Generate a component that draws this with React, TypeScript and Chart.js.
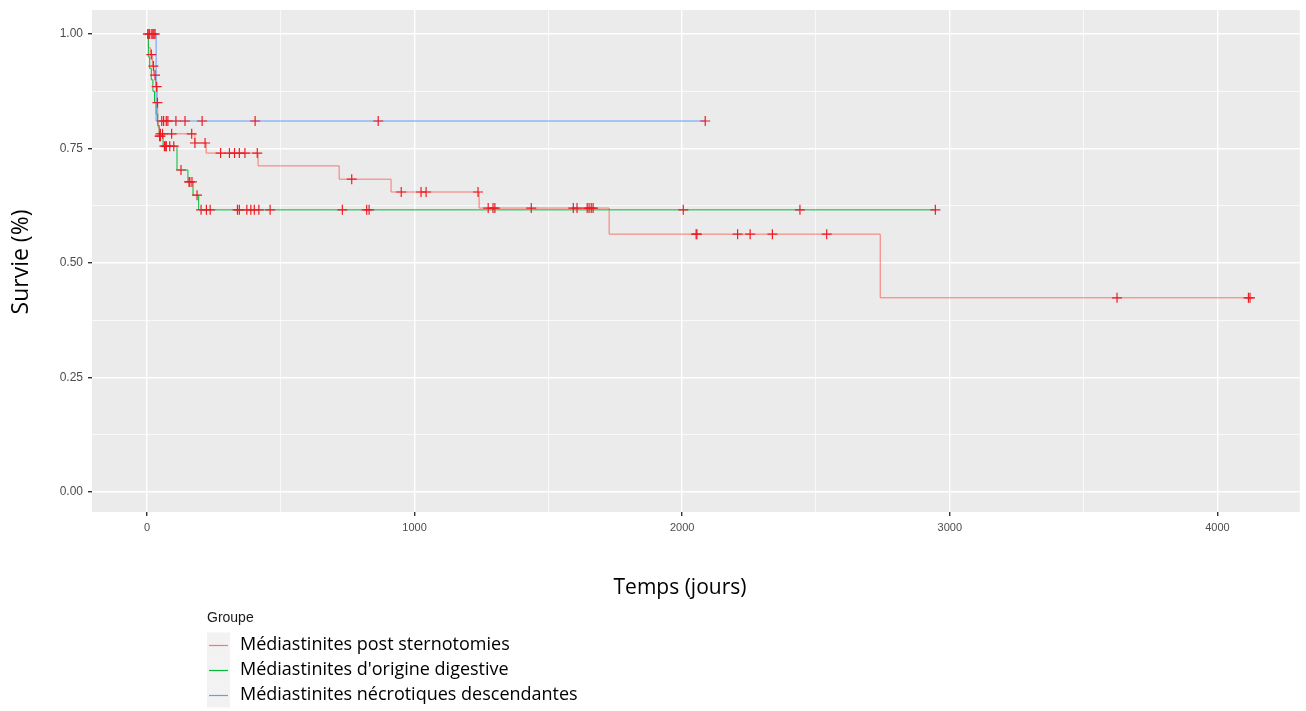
import React, { useEffect, useRef } from "react";
import { Chart, registerables } from "chart.js";

Chart.register(...registerables);

// ---------- data ----------
const groupLabels = [
  "Médiastinites post sternotomies",
  "Médiastinites d'origine digestive",
  "Médiastinites nécrotiques descendantes",
];
const lineColors = ["#F8766D", "#00BA38", "#619CFF"];
const censorColor = "#EE1B24";

// post sternotomies (red)
const sternoTimes = [0, 5, 12, 20, 25, 32, 38, 40, 42, 45, 179, 221, 415, 718, 912, 1241, 1727, 2740, 4123];
const sternoSurv = [1.0, 0.97, 0.955, 0.93, 0.91, 0.885, 0.85, 0.81, 0.795, 0.782, 0.762, 0.74, 0.712, 0.683, 0.655, 0.62, 0.563, 0.424, 0.424];
const sternoCensor = [3, 4, 16, 24, 30, 36, 39, 50, 58, 92, 167, 179, 217, 275, 308, 327, 345, 366, 412, 765, 950, 1024, 1043, 1237, 1275, 1293, 1300, 1436, 1593, 1607, 1645, 1652, 1660, 1667, 2052, 2055, 2207, 2254, 2337, 2540, 3625, 4116, 4122];

// origine digestive (green)
const digestTimes = [0, 5, 10, 16, 22, 28, 34, 40, 46, 60, 112, 153, 172, 193, 2946];
const digestSurv = [1.0, 0.95, 0.925, 0.9, 0.875, 0.85, 0.825, 0.8, 0.777, 0.755, 0.703, 0.677, 0.648, 0.616, 0.616];
const digestCensor = [47, 50, 65, 70, 72, 85, 100, 127, 157, 160, 168, 187, 202, 222, 236, 338, 345, 373, 388, 401, 418, 460, 730, 821, 830, 2004, 2440, 2946];

// nécrotiques descendantes (blue)
const necroTimes = [0, 34, 2086];
const necroSurv = [1.0, 0.81, 0.81];
const necroCensor = [10, 18, 22, 26, 30, 55, 62, 72, 78, 108, 142, 206, 404, 864, 2086];

const xMajor = [0, 1000, 2000, 3000, 4000];
const xMinor = [500, 1500, 2500, 3500];
const yMajor = [0, 0.25, 0.5, 0.75, 1.0];
const yMinor = [0.125, 0.375, 0.625, 0.875];

const xTitle = "Temps (jours)";
const yTitle = "Survie (%)";
const legendTitle = "Groupe";

// ---------- helpers ----------
function stepAt(times: number[], surv: number[], t: number): number {
  let v = surv[0];
  for (let i = 0; i < times.length; i++) {
    if (times[i] <= t) v = surv[i];
  }
  return v;
}
function curve(times: number[], surv: number[]) {
  return times.map((t, i) => ({ x: t, y: surv[i] }));
}
function marks(times: number[], surv: number[], cens: number[]) {
  return cens.map((t) => ({ x: t, y: stepAt(times, surv, t) }));
}

const TICK_FONT = "'Liberation Sans Narrow', 'Liberation Sans', Arial, sans-serif";
const TEXT_FONT = "'Open Sans', 'Noto Sans', sans-serif";

const decorPlugin = {
  id: "decor",
  beforeDraw(chart: any) {
    const { ctx, chartArea } = chart;
    ctx.save();
    ctx.fillStyle = "#EBEBEB";
    ctx.fillRect(chartArea.left, chartArea.top, chartArea.right - chartArea.left, chartArea.bottom - chartArea.top);
    ctx.restore();
  },
  afterDraw(chart: any) {
    const { ctx } = chart;
    ctx.save();
    // axis titles
    ctx.fillStyle = "#000000";
    ctx.textAlign = "center";
    ctx.textBaseline = "middle";
    ctx.font = `21px ${TEXT_FONT}`;
    ctx.fillText(xTitle, 680, 588);
    ctx.save();
    ctx.font = `23px ${TEXT_FONT}`;
    ctx.translate(21, 262);
    ctx.rotate(-Math.PI / 2);
    ctx.fillText(yTitle, 0, 0);
    ctx.restore();

    // legend
    ctx.textAlign = "left";
    ctx.font = `14px 'Liberation Sans', Arial, sans-serif`;
    ctx.fillStyle = "#1A1A1A";
    ctx.fillText(legendTitle, 207, 618);
    const rowY = [645, 670, 695];
    groupLabels.forEach((lab, i) => {
      const cy = rowY[i];
      ctx.fillStyle = "#F2F2F2";
      ctx.fillRect(207, cy - 12.5, 23, 25);
      ctx.strokeStyle = lineColors[i];
      ctx.lineWidth = 1.2;
      ctx.beginPath();
      ctx.moveTo(209, cy + 0.5);
      ctx.lineTo(228, cy + 0.5);
      ctx.stroke();
      ctx.fillStyle = "#000000";
      ctx.font = `18px ${TEXT_FONT}`;
      ctx.fillText(lab, 240, cy);
    });
    ctx.restore();
  },
};

export default function App() {
  const ref = useRef<HTMLCanvasElement | null>(null);
  useEffect(() => {
    if (!ref.current) return;
    const seriesTimes = [sternoTimes, digestTimes, necroTimes];
    const seriesSurv = [sternoSurv, digestSurv, necroSurv];
    const seriesCens = [sternoCensor, digestCensor, necroCensor];

    const lineSets: any[] = seriesTimes.map((ts, i) => ({
      type: "line",
      label: groupLabels[i],
      data: curve(ts, seriesSurv[i]),
      borderColor: lineColors[i],
      borderWidth: 1,
      stepped: "before",
      pointRadius: 0,
      fill: false,
      order: 10 - i,
    }));
    const markSets: any[] = seriesTimes.map((ts, i) => ({
      type: "scatter",
      label: groupLabels[i] + " censure",
      data: marks(ts, seriesSurv[i], seriesCens[i]),
      pointStyle: "cross",
      pointRadius: 5,
      borderColor: censorColor,
      backgroundColor: censorColor,
      borderWidth: 1.2,
      order: 1,
    }));

    const isMajorX = (v: number) => xMajor.includes(v);
    const isMajorY = (v: number) => yMajor.some((m) => Math.abs(m - v) < 1e-9);

    const chart = new Chart(ref.current, {
      type: "line",
      data: { datasets: [...lineSets, ...markSets] },
      options: {
        animation: false,
        responsive: false,
        devicePixelRatio: 1,
        layout: { padding: { top: 10, right: 0, left: 0, bottom: 0 } },
        plugins: { legend: { display: false }, tooltip: { enabled: false }, title: { display: false } },
        scales: {
          x: {
            type: "linear",
            min: -205.6,
            max: 4308,
            afterBuildTicks: (s: any) => {
              s.ticks = [...xMajor, ...xMinor].sort((a, b) => a - b).map((v) => ({ value: v }));
            },
            afterFit: (s: any) => {
              s.height = 199;
              s.paddingLeft = 0;
              s.paddingRight = 0;
            },
            ticks: {
              autoSkip: false,
              maxRotation: 0,
              padding: 5,
              color: "#4D4D4D",
              font: { family: TICK_FONT, size: 11 },
              callback: (v: any) => (isMajorX(Number(v)) ? String(v) : ""),
            },
            grid: {
              color: "#FFFFFF",
              lineWidth: (c: any) => (c.tick && isMajorX(c.tick.value) ? 1.4 : 0.7),
              tickColor: (c: any) => (c.tick && isMajorX(c.tick.value) ? "#333333" : "rgba(0,0,0,0)"),
              tickLength: 4,
              drawTicks: true,
            },
            border: { display: false },
          },
          y: {
            type: "linear",
            min: -0.0437,
            max: 1.0524,
            afterBuildTicks: (s: any) => {
              s.ticks = [...yMajor, ...yMinor].sort((a, b) => a - b).map((v) => ({ value: v }));
            },
            afterFit: (s: any) => {
              s.width = 92;
              s.paddingTop = 0;
              s.paddingBottom = 0;
            },
            ticks: {
              autoSkip: false,
              padding: 5,
              color: "#4D4D4D",
              font: { family: TICK_FONT, size: 12 },
              callback: (v: any) => (isMajorY(Number(v)) ? Number(v).toFixed(2) : ""),
            },
            grid: {
              color: "#FFFFFF",
              lineWidth: (c: any) => (c.tick && isMajorY(c.tick.value) ? 1.4 : 0.7),
              tickColor: (c: any) => (c.tick && isMajorY(c.tick.value) ? "#333333" : "rgba(0,0,0,0)"),
              tickLength: 4,
              drawTicks: true,
            },
            border: { display: false },
          },
        },
      },
      plugins: [decorPlugin],
    } as any);
    return () => chart.destroy();
  }, []);

  return (
    <div style={{ position: "fixed", left: 0, top: 0, width: 1306, height: 711, background: "#FFFFFF" }}>
      <canvas ref={ref} width={1306} height={711} style={{ width: 1306, height: 711, display: "block" }} />
    </div>
  );
}
